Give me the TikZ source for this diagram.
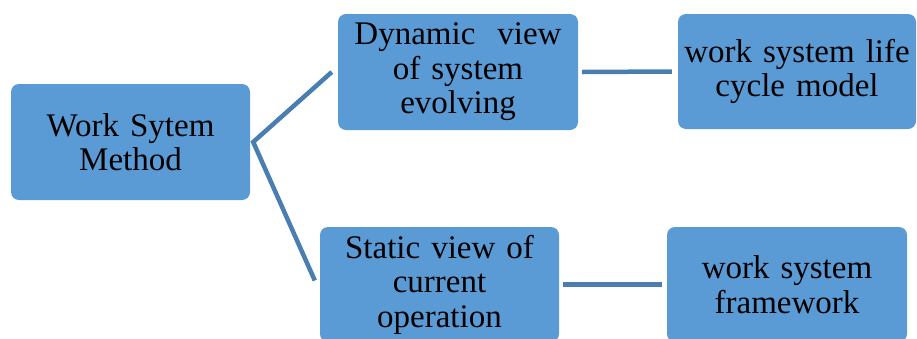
\documentclass[tikz,border=0pt]{standalone}
\usepackage{fontspec}
\newfontfamily\boxfont[Extension=.ttf, UprightFont=LiberationSerif-Regular]{LiberationSerif}
\definecolor{boxfill}{HTML}{5B9BD5}
\definecolor{linkblue}{HTML}{4A7EB1}
\begin{document}
\begin{tikzpicture}[x=1pt,y=-1pt,
  box/.style={rectangle, rounded corners=8pt, fill=boxfill, draw=none,
    inner sep=0pt, align=center,
    font=\boxfont\fontsize{33}{34.5}\selectfont},
  link/.style={draw=linkblue, line width=4.5pt, line join=miter}]
\useasboundingbox (0,0) rectangle (917,338);
\clip (0,0) rectangle (917,338);

% boxes
\node[box, minimum width=239pt, minimum height=116pt, text width=225pt] (wsm) at (130.5,142) {Work Sytem\\Method};
\node[box, minimum width=240pt, minimum height=116pt, text width=226pt] (dyn) at (458,72) {Dynamic\ \ view\\of system\\evolving};
\node[box, minimum width=238pt, minimum height=115pt, text width=232pt] (life) at (797,71.5) {work system life\\cycle model};
\node[box, minimum width=239pt, minimum height=115pt, text width=226pt] (stat) at (439.5,284.5) {Static view of\\current\\operation};
\node[box, minimum width=240pt, minimum height=115pt, text width=226pt] (frame) at (787,284.5) {work system\\framework};

% connectors
\coordinate (fork) at ([xshift=3pt]wsm.east);
\draw[link] ([xshift=-6pt]dyn.west) -- (fork) -- ([xshift=-5pt,yshift=4pt]stat.west);
\draw[link] ([xshift=4pt]dyn.east) -- ([xshift=-6pt]life.west);
\draw[link] ([xshift=4pt]stat.east) -- ([xshift=-5pt]frame.west);
\end{tikzpicture}
\end{document}
